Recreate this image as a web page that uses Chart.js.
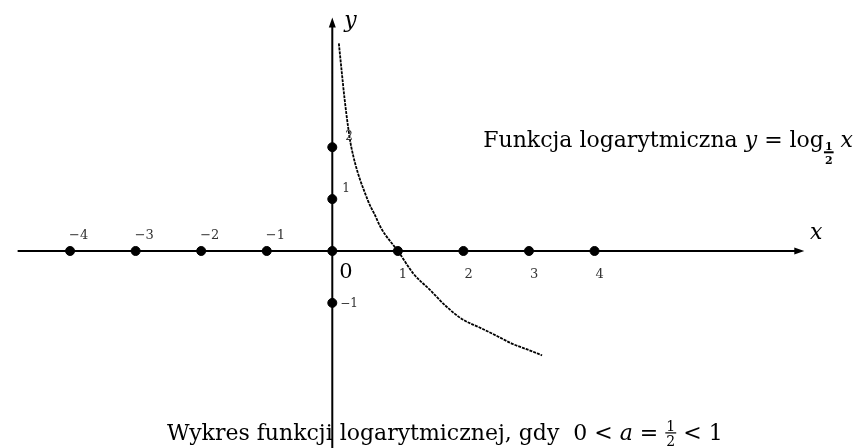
<!DOCTYPE html>
<html>
<head>
<meta charset="utf-8">
<script src="https://cdn.jsdelivr.net/npm/chart.js@4/dist/chart.umd.min.js"></script>
<style>
  html, body { margin: 0; padding: 0; background: #fff; }
  #wrap { width: 857px; height: 448px; }
</style>
</head>
<body>
<div id="wrap"><canvas id="logChart" width="857" height="448"></canvas></div>
<script>
// tick values on both axes
const ticksX = [-4, -3, -2, -1, 1, 2, 3, 4];
const ticksY = [2, 1, -1];
// points of the curve
const curveX = [0.10, 0.14, 0.19, 0.24, 0.29, 0.55, 0.64, 0.74, 0.81, 1.0, 1.24, 1.49, 1.74, 1.99, 2.24, 2.50, 2.75, 3.0, 3.2];
const curveY = [4.0, 3.5, 2.9, 2.4, 2.0, 0.95, 0.72, 0.45, 0.31, 0, -0.44, -0.75, -1.07, -1.32, -1.47, -1.63, -1.79, -1.91, -2.01];
// how far the axis lines reach
const axisX = [-4.8, 7.2];
const axisY = [-3.8, 4.5];

const serif = '"DejaVu Serif", "Liberation Serif", serif';

let dots = [{x: 0, y: 0}];
ticksX.forEach(v => dots.push({x: v, y: 0}));
ticksY.forEach(v => dots.push({x: 0, y: v}));

let curve = curveX.map((v, i) => ({x: v, y: curveY[i]}));

// draws a row of text pieces, each with its own font, returns end x
function runs(ctx, x, y, parts, measureOnly) {
    let cx = x;
    parts.forEach(p => {
        if (p.frac) {
            ctx.font = p.font;
            let w = Math.max(ctx.measureText(p.num).width, ctx.measureText(p.den).width) + 2;
            if (!measureOnly) {
                ctx.textAlign = 'center';
                ctx.fillText(p.num, cx + w / 2, y + p.barY - 2);
                ctx.fillText(p.den, cx + w / 2, y + p.barY + p.denDy);
                ctx.fillRect(cx, y + p.barY - 0.7, w, p.barH || 1.2);
                ctx.textAlign = 'left';
            }
            cx += w;
        } else {
            ctx.font = p.font;
            if (!measureOnly) ctx.fillText(p.t, cx, y + (p.dy || 0));
            cx += ctx.measureText(p.t).width;
        }
    });
    return cx;
}

const axesPlugin = {
    id: 'axesPlugin',
    beforeDatasetsDraw(chart) {
        const ctx = chart.ctx;
        const sx = chart.scales.x, sy = chart.scales.y;
        const ox = sx.getPixelForValue(0), oy = sy.getPixelForValue(0);
        ctx.save();
        ctx.strokeStyle = '#000';
        ctx.fillStyle = '#000';
        ctx.lineWidth = 2;
        let x0 = sx.getPixelForValue(axisX[0]), x1 = sx.getPixelForValue(axisX[1]);
        let y0 = sy.getPixelForValue(axisY[0]), y1 = sy.getPixelForValue(axisY[1]);
        ctx.beginPath();
        ctx.moveTo(x0, oy); ctx.lineTo(x1 - 6, oy);
        ctx.moveTo(ox, y0); ctx.lineTo(ox, y1 + 6);
        ctx.stroke();
        // arrow heads
        ctx.beginPath();
        ctx.moveTo(x1, oy); ctx.lineTo(x1 - 10, oy - 3.5); ctx.lineTo(x1 - 10, oy + 3.5); ctx.closePath();
        ctx.moveTo(ox, y1); ctx.lineTo(ox - 3.5, y1 + 10); ctx.lineTo(ox + 3.5, y1 + 10); ctx.closePath();
        ctx.fill();
        ctx.restore();
    },
    afterDatasetsDraw(chart) {
        const ctx = chart.ctx;
        const sx = chart.scales.x, sy = chart.scales.y;
        const ox = sx.getPixelForValue(0), oy = sy.getPixelForValue(0);
        ctx.save();
        ctx.fillStyle = '#333';
        ctx.textBaseline = 'alphabetic';
        ctx.textAlign = 'left';
        ctx.font = '13px ' + serif;
        ticksX.forEach(v => {
            let px = sx.getPixelForValue(v);
            if (v < 0) ctx.fillText('\u2212' + Math.abs(v), px - 1, oy - 12);
            else ctx.fillText(String(v), px + 1, oy + 27);
        });
        ctx.font = '12px ' + serif;
        ticksY.forEach(v => {
            let py = sy.getPixelForValue(v);
            if (v < 0) ctx.fillText('\u2212' + Math.abs(v), ox + 8, py + 4);
            else ctx.fillText(String(v), ox + 10 + (v - 1) * 3, py - 7);
        });
        ctx.fillStyle = '#000';
        ctx.font = '21px ' + serif;
        ctx.fillText('0', ox + 7, oy + 27);
        ctx.font = 'italic 22px ' + serif;
        ctx.fillText('y', ox + 12, 27);
        ctx.fillText('x', 810, oy - 12);

        // label on the right
        const big = '22px ' + serif, it = 'italic 22px ' + serif;
        let lab = [
            {t: 'Funkcja logarytmiczna ', font: big},
            {t: 'y', font: it},
            {t: ' = log', font: big},
            {frac: true, num: '1', den: '2', font: 'bold 11px ' + serif, barY: 5, denDy: 12, barH: 2},
            {t: ' ', font: big},
            {t: 'x', font: it}
        ];
        let w = runs(ctx, 0, 0, lab, true);
        runs(ctx, 853 - w, 147, lab, false);

        // caption at the bottom
        let cap = [
            {t: 'Wykres funkcji logarytmicznej, gdy  0 < ', font: big},
            {t: 'a', font: it},
            {t: ' = ', font: big},
            {frac: true, num: '1', den: '2', font: '14px ' + serif, barY: -7, denDy: 13, barH: 1.2},
            {t: ' < 1', font: big}
        ];
        runs(ctx, 167, 440, cap, false);
        ctx.restore();
    }
};

new Chart(document.getElementById('logChart'), {
    type: 'scatter',
    data: {
        datasets: [{
            data: dots,
            backgroundColor: '#000',
            borderColor: '#000',
            pointRadius: 4.5,
            pointHoverRadius: 4.5,
            order: 0
        }, {
            data: curve,
            showLine: true,
            borderColor: '#000',
            borderWidth: 1.8,
            borderDash: [3, 1],
            pointRadius: 0,
            cubicInterpolationMode: 'monotone',
            order: 1
        }]
    },
    options: {
        responsive: false,
        animation: false,
        layout: { padding: 0 },
        plugins: { legend: { display: false }, tooltip: { enabled: false } },
        scales: {
            x: { type: 'linear', display: false, min: -4.985, max: 7.92 },
            y: { type: 'linear', display: false, min: -3.69, max: 4.73 }
        }
    },
    plugins: [axesPlugin]
});
</script>
</body>
</html>
